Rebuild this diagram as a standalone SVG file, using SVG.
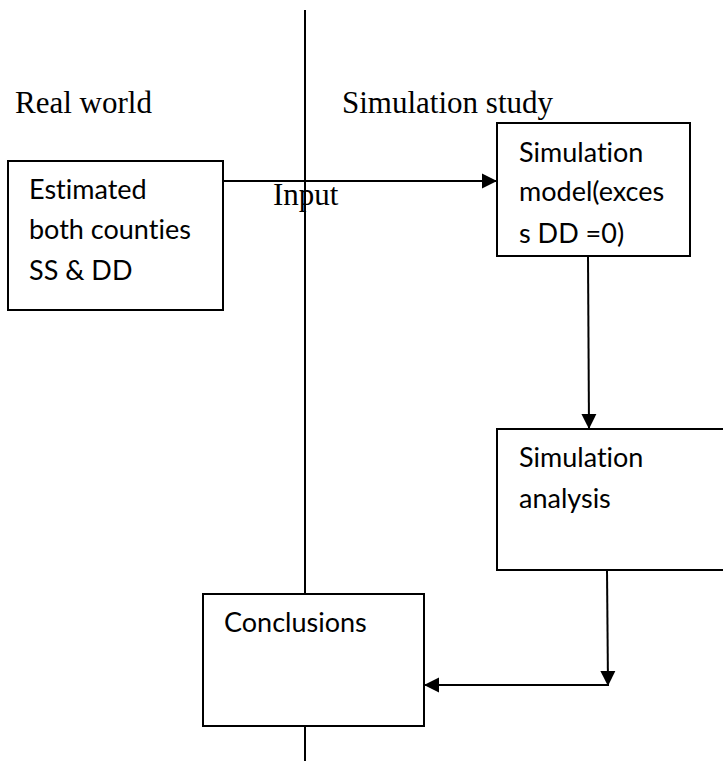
<svg xmlns="http://www.w3.org/2000/svg" width="723" height="761" viewBox="0 0 723 761">
  <style>
    .box { fill: #ffffff; stroke: #000000; stroke-width: 2; }
    .conn { fill: none; stroke: #000000; stroke-width: 2; }
    .serif { font-family: "Liberation Serif", "Times New Roman", serif; font-size: 31px; fill: #000000; }
    .sans { font-family: Lato, "Open Sans", sans-serif; font-size: 27px; fill: #000000; font-variant-ligatures: none; }
  </style>
  <defs>
    <marker id="arrow" markerUnits="userSpaceOnUse" markerWidth="16" markerHeight="16" viewBox="0 0 16 16" refX="15" refY="8" orient="auto">
      <path d="M0,0.5 L15,8 L0,15.5 Z" fill="#000000"/>
    </marker>
  </defs>
  <rect width="723" height="761" fill="#ffffff"/>

  <g id="labels">
    <text class="serif" x="15" y="113">Real world</text>
    <text class="serif" x="342" y="113">Simulation study</text>
    <text class="serif" x="273" y="205">Input</text>
  </g>

  <g id="divider">
    <line class="conn" x1="305" y1="10" x2="305" y2="761"/>
  </g>

  <g id="connectors">
    <line class="conn" x1="224" y1="181" x2="497" y2="181" marker-end="url(#arrow)"/>
    <line class="conn" x1="588" y1="256" x2="589" y2="429" marker-end="url(#arrow)"/>
    <line class="conn" x1="607" y1="570" x2="608" y2="686" marker-end="url(#arrow)"/>
    <line class="conn" x1="608" y1="685" x2="424" y2="685" marker-end="url(#arrow)"/>
  </g>

  <g id="node-estimated">
    <rect class="box" x="8" y="161" width="215" height="149"/>
    <text class="sans" x="29" y="199">Estimated</text>
    <text class="sans" x="29" y="239">both counties</text>
    <text class="sans" x="29" y="280">SS &amp; DD</text>
  </g>

  <g id="node-model">
    <rect class="box" x="497" y="123" width="193" height="133"/>
    <text class="sans" x="519" y="162">Simulation</text>
    <text class="sans" x="519" y="201">model(exces</text>
    <text class="sans" x="519" y="243">s DD =0)</text>
  </g>

  <g id="node-analysis">
    <rect class="box" x="497" y="429" width="230" height="141"/>
    <text class="sans" x="519" y="467">Simulation</text>
    <text class="sans" x="519" y="508">analysis</text>
  </g>

  <g id="node-conclusions">
    <rect class="box" x="203" y="594" width="221" height="132"/>
    <text class="sans" x="224" y="632">Conclusions</text>
  </g>
</svg>
